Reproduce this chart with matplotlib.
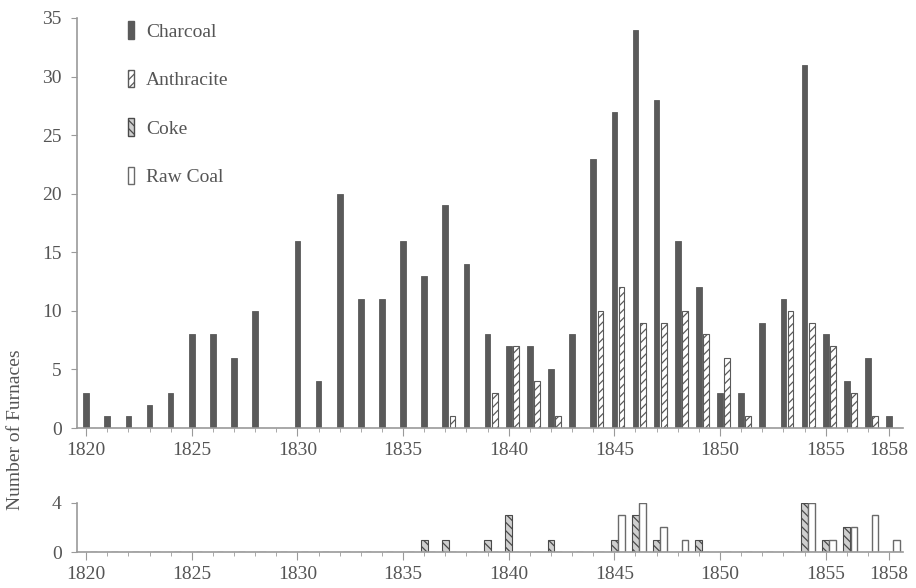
import matplotlib
matplotlib.use("Agg")
import matplotlib.pyplot as plt
import numpy as np
from matplotlib.patches import Patch

plt.rcParams['font.family'] = ['Liberation Serif', 'DejaVu Serif']
plt.rcParams['hatch.linewidth'] = 0.9

years = np.arange(1820, 1859)

# furnaces built per year
charcoal = [3, 1, 1, 2, 3, 8, 8, 6, 10, 0,
            16, 4, 20, 11, 11, 16, 13, 19, 14, 8,
            7, 7, 5, 8, 23, 27, 34, 28, 16, 12,
            3, 3, 9, 11, 31, 8, 4, 6, 1]
anthracite = [0, 0, 0, 0, 0, 0, 0, 0, 0, 0,
              0, 0, 0, 0, 0, 0, 0, 1, 0, 3,
              7, 4, 1, 0, 10, 12, 9, 9, 10, 8,
              6, 1, 0, 10, 9, 7, 3, 1, 0]
coke = [0, 0, 0, 0, 0, 0, 0, 0, 0, 0,
        0, 0, 0, 0, 0, 0, 1, 1, 0, 1,
        3, 0, 1, 0, 0, 1, 3, 1, 0, 1,
        0, 0, 0, 0, 4, 1, 2, 0, 0]
raw_coal = [0, 0, 0, 0, 0, 0, 0, 0, 0, 0,
            0, 0, 0, 0, 0, 0, 0, 0, 0, 0,
            0, 0, 0, 0, 0, 3, 4, 2, 1, 0,
            0, 0, 0, 0, 4, 1, 2, 3, 1]

major_ticks = [1820, 1825, 1830, 1835, 1840, 1845, 1850, 1855, 1858]

dark = '#5a5a5a'
axis_col = '#9a9a9a'
text_col = '#555555'
fs = 14

fig = plt.figure(figsize=(9.16, 5.88), dpi=100)
ax1 = fig.add_axes([0.0841, 0.2721, 0.9017, 0.6973])
ax2 = fig.add_axes([0.0841, 0.0612, 0.9017, 0.0834])

w = 0.27
off = 0.34

def style(ax):
    for s in ['top', 'right']:
        ax.spines[s].set_visible(False)
    for s in ['left', 'bottom']:
        ax.spines[s].set_color(axis_col)
        ax.spines[s].set_linewidth(1.2)
    ax.set_xlim(1819.57, 1858.66)
    ax.set_xticks(major_ticks)
    ax.set_xticks(years, minor=True)
    ax.tick_params(axis='x', which='major', length=6, color=axis_col,
                   labelsize=fs, labelcolor=text_col, pad=4)
    ax.tick_params(axis='x', which='minor', length=3, color=axis_col)
    ax.tick_params(axis='y', length=4, color=axis_col,
                   labelsize=fs, labelcolor=text_col, pad=7)

ax1.bar(years, charcoal, width=w, color=dark, edgecolor=dark, linewidth=0.6)
ax1.bar(years + off, anthracite, width=w, color='white', edgecolor=dark,
        hatch='////', linewidth=0.8)
ax1.set_ylim(0, 35)
ax1.set_yticks(range(0, 36, 5))
style(ax1)

ax2.bar(years, coke, width=0.32, color='#cfcfcf', edgecolor='#4a4a4a',
        hatch='\\\\\\\\', linewidth=0.8)
ax2.bar(years + off, raw_coal, width=0.32, color='white', edgecolor='#6a6a6a',
        linewidth=1.0)
ax2.set_ylim(0, 4)
ax2.set_yticks([0, 4])
style(ax2)

handles = [
    Patch(facecolor=dark, edgecolor=dark, label='Charcoal'),
    Patch(facecolor='white', edgecolor=dark, hatch='////', label='Anthracite'),
    Patch(facecolor='#cfcfcf', edgecolor='#4a4a4a', hatch='\\\\\\\\', label='Coke'),
    Patch(facecolor='white', edgecolor='#6a6a6a', label='Raw Coal'),
]
leg = ax1.legend(handles=handles, loc='upper left', bbox_to_anchor=(0.04, 1.035),
                 frameon=False, handlelength=0.35, handleheight=1.0,
                 labelspacing=1.5, handletextpad=0.6, fontsize=fs)
for t in leg.get_texts():
    t.set_color(text_col)

fig.text(0.017, 0.27, 'Number of Furnaces', rotation=90, ha='center', va='center',
         fontsize=fs, color=text_col)

fig.savefig('out.png', dpi=100)
